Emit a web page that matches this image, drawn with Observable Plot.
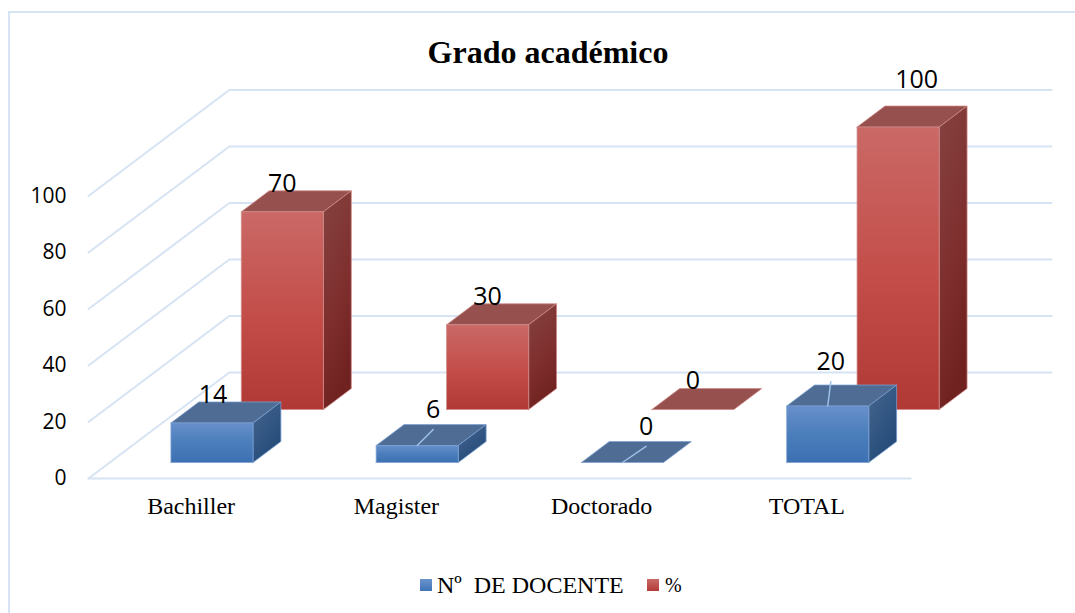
<!DOCTYPE html>
<html lang="es">
<head>
<meta charset="utf-8">
<title>Grado académico</title>
<script src="https://cdn.jsdelivr.net/npm/d3@7"></script>
<script src="https://cdn.jsdelivr.net/npm/@observablehq/plot@0.6"></script>
<style>
  html, body { margin: 0; padding: 0; background: #fff; width: 1075px; height: 613px; overflow: hidden; }
  #page { position: relative; width: 1075px; height: 613px; overflow: hidden; }
  #frame { position: absolute; left: 8px; top: 11px; right: -4px; bottom: -4px; border: 2px solid #d6e3f3; }
  #title { position: relative; height: 72px; box-sizing: border-box; padding-top: 32px; padding-left: 21px; text-align: center;
           font: bold 32px/40px "Liberation Serif", serif; color: #000; }
  #chart { position: relative; height: 458px; }
  #chart svg { display: block; background: none; }
  #legend { position: absolute; left: 0; top: 570px; width: 1075px; height: 30px; color: #000;
            font: 24px/30px "Liberation Serif", serif; }
  #legend span { position: absolute; top: 0; white-space: pre; }
  #legend i { position: absolute; top: 9px; width: 12px; height: 12px; display: block; }
</style>
</head>
<body>
<div id="page">
  <div id="frame"></div>
  <div id="title">Grado académico</div>
  <div id="chart"></div>
  <div id="legend">
    <i style="left:420px;background:linear-gradient(#6a93cd,#3f74b6)"></i><span style="left:437px">Nº  DE DOCENTE</span>
    <i style="left:647px;background:linear-gradient(#cb6a67,#b33a36)"></i><span style="left:665px;font-size:20px">%</span>
  </div>
</div>
<script>
// ---- data ----
const categories = ["Bachiller", "Magister", "Doctorado", "TOTAL"];
const docentes = [14, 6, 0, 20];
const porcentaje = [70, 30, 0, 100];
const yTicks = [0, 20, 40, 60, 80, 100];

// ---- oblique projection of the depth axis onto the x / y scales ----
const DEPTH_X = 0.686;   // slots of x per full depth
const DEPTH_Y = 37.5;    // value units of y per full depth
const BAR_START = 0.298, BAR_WIDTH = 0.40, BAR_DEPTH = 0.198;
const Z_DOCENTES = 0.151, Z_PORCENTAJE = 0.651;
const FLOOR_END = 4.006;
const px = (slot, z) => slot + z * DEPTH_X;
const py = (v, z) => v + z * DEPTH_Y;

// hand-placed labels in the original: [x nudge in slots, lift in value units]
const nudgeDocentes = [[0.005, 10], [0.078, 12.7], [0.115, 12.7], [0.015, 15.6]];
const nudgePorcentaje = [[0, 10], [0, 10], [0, 10.2], [0.09, 16.6]];

function faces(values, z0) {
  const front = [], top = [], side = [];
  const push = (arr, id, pts) => pts.forEach(([s, v, z]) => arr.push({id, x: px(s, z), y: py(v, z)}));
  values.forEach((v, i) => {
    const a = i + BAR_START, b = a + BAR_WIDTH, z1 = z0 + BAR_DEPTH;
    push(top, i, [[a, v, z0], [b, v, z0], [b, v, z1], [a, v, z1], [a, v, z0]]);
    if (v > 0) {
      push(front, i, [[a, 0, z0], [b, 0, z0], [b, v, z0], [a, v, z0], [a, 0, z0]]);
      push(side, i, [[b, 0, z0], [b, 0, z1], [b, v, z1], [b, v, z0], [b, 0, z0]]);
    }
  });
  return {front, top, side};
}

function labels(values, z0, nudge) {
  return values.map((v, i) => {
    const c = i + BAR_START + BAR_WIDTH / 2;
    return {
      text: String(v),
      x: px(c + nudge[i][0], z0),
      y: py(v + nudge[i][1], z0)
    };
  });
}

// leader lines link the moved labels back to the front edge of their bar
const leaders = [];
docentes.forEach((v, i) => {
  if (i === 0) return;
  const c = i + BAR_START + BAR_WIDTH / 2;
  leaders.push({id: i, x: px(c, Z_DOCENTES), y: py(v, Z_DOCENTES)});
  leaders.push({id: i, x: px(c + nudgeDocentes[i][0], Z_DOCENTES), y: py(v + nudgeDocentes[i][1] - 7, Z_DOCENTES)});
});

// walls and floor
const grid = [];
yTicks.forEach((t) => {
  grid.push({id: t, x: px(0, 0), y: py(t, 0)});
  grid.push({id: t, x: px(0, 1), y: py(t, 1)});
  grid.push({id: t, x: px(FLOOR_END, 1), y: py(t, 1)});
});
const floorFront = [{x: 0, y: 0}, {x: FLOOR_END, y: 0}];

function gradientDefs() {
  const defs = d3.create("svg:defs");
  const grad = (id, x2, y2, stops) => {
    const g = defs.append("linearGradient").attr("id", id)
      .attr("x1", 0).attr("y1", 0).attr("x2", x2).attr("y2", y2);
    stops.forEach(([o, c]) => g.append("stop").attr("offset", o).attr("stop-color", c));
  };
  grad("blueFront", 0, 1, [[0, "#688fcb"], [0.5, "#4a7ebb"], [1, "#3c70b2"]]);
  grad("blueSide", 0.6, 1, [[0, "#46668f"], [1, "#234a78"]]);
  grad("redFront", 0, 1, [[0, "#ca6966"], [0.55, "#c34c48"], [1, "#b13935"]]);
  grad("redSide", 0.3, 1, [[0, "#854341"], [0.6, "#7e2f2e"], [1, "#702221"]]);
  return defs.node();
}

function barMarks(f, colors) {
  const common = {x: "x", y: "y", z: "id", strokeWidth: 1, strokeOpacity: 0.75, stroke: colors.edge};
  return [
    Plot.line(f.top, {...common, fill: colors.top}),
    Plot.line(f.side, {...common, fill: colors.side}),
    Plot.line(f.front, {...common, fill: colors.front})
  ];
}

const textFont = "'Open Sans', sans-serif";
const serif = "'Liberation Serif', serif";
const gridColor = "#d6e3f3";

const plot = Plot.plot({
  width: 1075,
  height: 458,
  marginLeft: 88,
  marginRight: 166,
  marginTop: 123.5,
  marginBottom: 52,
  style: {color: "#000", background: "none", overflow: "visible"},
  x: {domain: [0, 4], axis: null},
  y: {domain: [0, 100], axis: null},
  marks: [
    gradientDefs,
    Plot.line(grid, {x: "x", y: "y", z: "id", stroke: gridColor, strokeWidth: 2}),
    Plot.line(floorFront, {x: "x", y: "y", stroke: gridColor, strokeWidth: 2}),
    ...barMarks(faces(porcentaje, Z_PORCENTAJE), {front: "url(#redFront)", side: "url(#redSide)", top: "#96504e", edge: "#cf8a87"}),
    ...barMarks(faces(docentes, Z_DOCENTES), {front: "url(#blueFront)", side: "url(#blueSide)", top: "#4f6d94", edge: "#7ba0d4"}),
    Plot.line(leaders, {x: "x", y: "y", z: "id", stroke: "#9dc0e8", strokeWidth: 1.5}),
    Plot.text(labels(docentes, Z_DOCENTES, nudgeDocentes), {x: "x", y: "y", text: "text", fontSize: 25, fontFamily: textFont, fill: "#000"}),
    Plot.text(labels(porcentaje, Z_PORCENTAJE, nudgePorcentaje), {x: "x", y: "y", text: "text", fontSize: 25, fontFamily: textFont, fill: "#000"}),
    Plot.axisY({ticks: yTicks, tickSize: 0, tickPadding: 22, label: null, fontSize: 21, fontFamily: textFont, fill: "#000"}),
    Plot.axisX({ticks: [0.5, 1.5, 2.5, 3.5], tickFormat: (d) => categories[Math.floor(d)], tickSize: 0, tickPadding: 18, label: null, fontSize: 24, fontFamily: serif, fill: "#000"})
  ]
});
document.getElementById("chart").appendChild(plot);
</script>
</body>
</html>
